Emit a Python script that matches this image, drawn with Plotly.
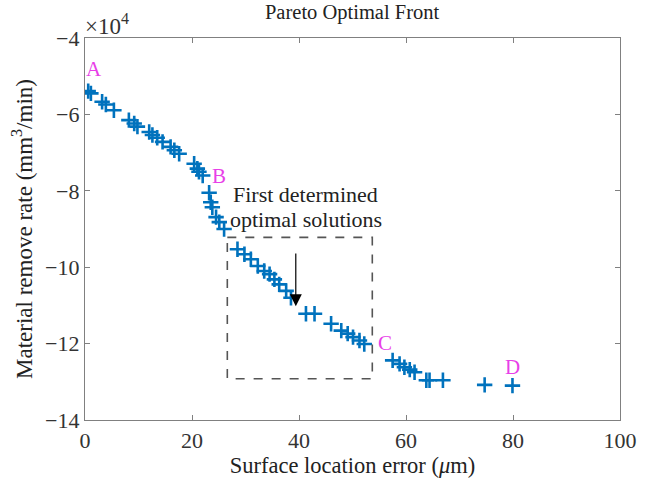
import plotly.graph_objects as go

# Surface location error (um)
sle = [0.6, 1.1, 3.2, 3.9, 5.4, 8.2, 9.2, 9.8, 12.0, 12.6, 13.5, 14.5, 16.0, 16.7, 17.6,
       20.4, 21.0, 21.3, 22.0, 23.2, 23.5, 23.8, 24.5, 25.1, 26.0,
       28.5, 29.8, 31.0, 32.3, 33.5, 34.5, 35.4, 36.3, 37.6, 38.5,
       41.3, 42.9, 46.0, 47.9, 49.1, 50.1, 51.3, 52.2,
       57.5, 58.8, 59.7, 60.7, 61.6, 63.8, 64.4, 66.9, 74.7, 79.9]
# Material remove rate (x1e4 mm^3/min)
mrr = [-5.39, -5.45, -5.67, -5.74, -5.89, -6.15, -6.24, -6.32, -6.46, -6.54, -6.61, -6.72, -6.85, -6.94, -7.03,
       -7.29, -7.42, -7.50, -7.60, -8.05, -8.30, -8.43, -8.69, -8.82, -9.00,
       -9.53, -9.66, -9.79, -9.97, -10.10, -10.18, -10.32, -10.45, -10.62, -10.80,
       -11.22, -11.22, -11.48, -11.66, -11.74, -11.83, -11.92, -12.01,
       -12.44, -12.53, -12.62, -12.68, -12.75, -12.96, -12.96, -12.96, -13.08, -13.10]

point_labels = ["A", "B", "C", "D"]
label_x = [1.7, 25.0, 56.0, 79.9]
label_y = [-4.8, -7.6, -11.98, -12.6]

box_x = [26.6, 53.7]
box_y = [-9.22, -12.92]
arrow_x = 39.4
arrow_y = [-9.6, -11.02]
note_lines = ["First determined", "optimal solutions"]
note_x = 41.3
note_y = [-8.09, -8.74]

x_ticks = [0, 20, 40, 60, 80, 100]
y_ticks = [-14, -12, -10, -8, -6, -4]

FONT = "Liberation Serif, Times New Roman, serif"
BLUE = "#0072BD"
MAG = "#E83FE8"

fig = go.Figure()
fig.add_trace(go.Scatter(
    x=sle, y=mrr, mode="markers",
    marker=dict(symbol="cross-thin", size=11, line=dict(color=BLUE, width=2.6), color=BLUE),
    showlegend=False, hoverinfo="skip"))

for t, xx, yy in zip(point_labels, label_x, label_y):
    fig.add_annotation(x=xx, y=yy, text=t, showarrow=False,
                       font=dict(family=FONT, size=21, color=MAG))

fig.add_shape(type="rect", x0=box_x[0], x1=box_x[1], y0=box_y[0], y1=box_y[1],
              line=dict(color="#555555", width=1.6, dash="dash"))

fig.add_annotation(x=arrow_x, y=arrow_y[1], ax=arrow_x, ay=arrow_y[0],
                   xref="x", yref="y", axref="x", ayref="y",
                   showarrow=True, arrowhead=2, arrowsize=2.0, arrowwidth=1.2,
                   arrowcolor="black", text="")

for line, yy in zip(note_lines, note_y):
    fig.add_annotation(x=note_x, y=yy, text=line, showarrow=False,
                       font=dict(family=FONT, size=22, color="#222222"))

fig.add_annotation(xref="paper", yref="paper", x=-0.003, y=1.0, xanchor="left", yanchor="bottom",
                   yshift=-3, text="×10<sup>4</sup>", showarrow=False,
                   font=dict(family=FONT, size=23, color="#333333"))

axis_common = dict(showgrid=False, zeroline=False, showline=True, linecolor="#808080",
                   linewidth=1.2, mirror="ticks", ticks="inside", ticklen=5,
                   tickcolor="#808080", tickfont=dict(family=FONT, size=22, color="#333333"))

fig.update_layout(
    width=652, height=484,
    margin=dict(l=85, r=32, t=38, b=62),
    plot_bgcolor="white", paper_bgcolor="white",
    title=dict(text="Pareto Optimal Front", x=0.54, xanchor="center", xref="container", y=0.975, yanchor="middle",
               font=dict(family=FONT, size=20.5, color="#222222")),
    xaxis=dict(range=[0, 100], tickvals=x_ticks,
               title=dict(text="Surface location error (<i>μ</i>m)", standoff=4,
                          font=dict(family=FONT, size=22.5, color="#222222")),
               **axis_common),
    yaxis=dict(range=[-14, -4], tickvals=y_ticks,
               title=dict(text="Material remove rate (mm<sup>3</sup>/min)", standoff=6,
                          font=dict(family=FONT, size=23, color="#222222")),
               **axis_common),
)

fig.write_html("out.html")
